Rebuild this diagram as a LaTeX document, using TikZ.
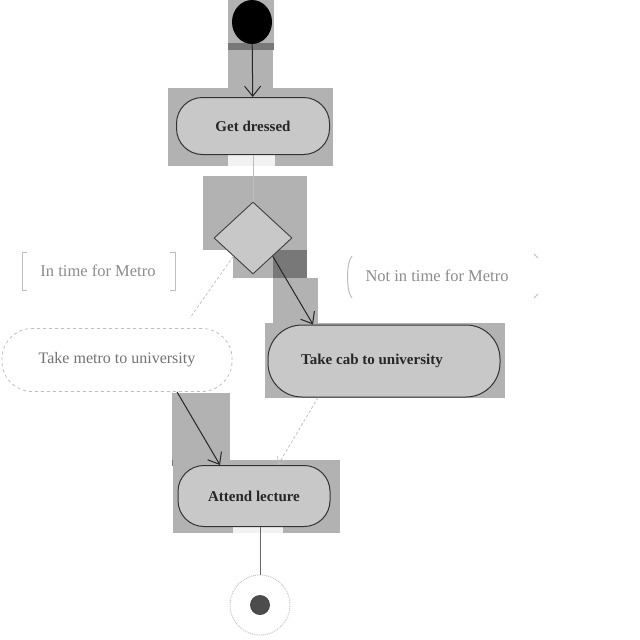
\documentclass[tikz,border=0pt]{standalone}
\usepackage{fontspec}
\setmainfont{Liberation Serif}
\usetikzlibrary{shapes.geometric,arrows.meta}
\definecolor{hl}{RGB}{178,178,178}
\definecolor{hldark}{RGB}{120,120,120}
\definecolor{nodefill}{RGB}{200,200,200}
\definecolor{faint}{RGB}{190,190,190}
\tikzset{
  act/.style={draw=black!80, line width=1pt, fill=nodefill, rounded corners=26pt, text=black!85, font=\fontsize{15}{17}\selectfont\bfseries},
  actlight/.style={draw=faint, dashed, line width=0.8pt, fill=white, rounded corners=30pt, text=black!55, font=\fontsize{16}{18}\selectfont},
  flow/.style={draw=black!85, line width=1pt, -{Straight Barb[length=10pt,width=16pt]}},
  faintflow/.style={draw=faint, densely dashed, line width=0.7pt},
  guard/.style={text=black!45, font=\fontsize{16.5}{18}\selectfont},
}
\begin{document}
\begin{tikzpicture}[x=1pt,y=-1pt]
\useasboundingbox (0,0) rectangle (640,640);
\fill[white] (0,0) rectangle (640,640);
% highlight rectangles
\fill[hl] (228,0) rectangle (274,43);
\fill[hldark] (228,43) rectangle (274,50);
\fill[hl] (228,50) rectangle (273,88);
\fill[hl] (168,88) rectangle (333,166);
\fill[white!90!gray] (228,152) rectangle (275,166);
\fill[hl] (203,176) rectangle (307,250);
\fill[hl] (233,250) rectangle (307,278);
\fill[hldark] (273,250) rectangle (307,278);
\fill[hl] (273,278) rectangle (318,323);
\fill[hl] (265,323) rectangle (505,398);
\fill[hl] (172,393) rectangle (230,460);
\fill[hldark] (172,460) rectangle (230,466);
\fill[hl] (173,460) rectangle (340,533);
\fill[white!90!gray] (233,520) rectangle (283,533);
% nodes
\node[ellipse, fill=black, minimum width=40pt, minimum height=44pt, inner sep=0pt] (start) at (252,22) {};
\node[act, minimum width=153pt, minimum height=57pt] (dress) at (253,126) {Get dressed};
\node[diamond, draw=black!75, line width=0.9pt, fill=nodefill, minimum width=78pt, minimum height=72pt, inner sep=0pt] (dec) at (253,238) {};
\node[actlight, minimum width=230pt, minimum height=63pt] (metro) at (117,360) {Take metro to university};
\node[act, minimum width=232pt, minimum height=72pt, rounded corners=34pt] (cab) at (384,361) {\hspace*{-24pt}Take cab to university};
\node[act, minimum width=152pt, minimum height=61pt] (lecture) at (254,496) {Attend lecture};
\node[circle, draw=faint, densely dotted, line width=0.9pt, minimum size=60pt, inner sep=0pt] (endo) at (260,605) {};
\node[circle, fill=black!70, minimum size=20pt, inner sep=0pt] (endi) at (260,605) {};
% guards
\node[guard] (g1) at (98,271) {In time for Metro};
\draw[faint, line width=1pt] (27,252) -- (22,252) -- (22,290) -- (27,290);
\draw[faint, line width=1pt] (170,252) -- (175,252) -- (175,290) -- (170,290);
\node[guard] (g2) at (437,276) {Not in time for Metro};
\draw[faint, line width=1pt] (352,256) .. controls (346,262) and (346,292) .. (352,298);
\draw[faint, line width=1pt] (534,254) -- (538,258);
\draw[faint, line width=1pt] (534,298) -- (538,294);
% connectors
\draw[flow] (start) -- (dress);
\draw[faint, line width=0.7pt] (dress) -- (dec);
\coordinate (mtop) at (190,318);
\draw[faintflow] (dec.south west) -- (mtop);
\draw[flow] (dec.south east) -- (cab.north west -| 313,0);
\draw[flow] (metro.south east -| 177,0) -- (lecture.north west -| 220,0);
\draw[faintflow, -{Straight Barb[length=7pt,width=10pt]}] (cab.south west -| 318,0) -- (lecture.north -| 278,0);
\draw[draw=black!60, line width=0.9pt] (lecture.south -| endo) -- (endo.north);
\end{tikzpicture}
\end{document}
